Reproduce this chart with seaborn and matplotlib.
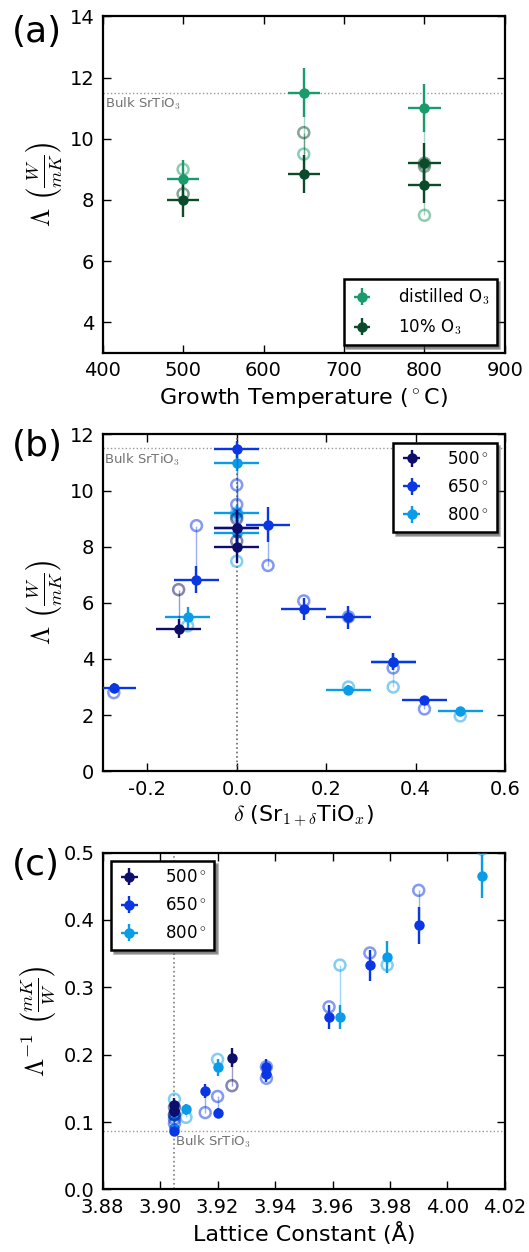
import numpy as np
import matplotlib
matplotlib.use("Agg")
import matplotlib.pyplot as plt
import seaborn as sns

# ---- (a) conductivity vs growth temperature ----
temp_dist = [500, 650, 800]
lam_dist = [8.7, 11.5, 11.0]
err_dist = [0.6, 0.8, 0.78]
open_dist = [9.0, 9.5, 7.5]

temp_ten = [500, 650, 800, 800]
lam_ten = [8.0, 8.85, 9.2, 8.5]
err_ten = [0.55, 0.63, 0.65, 0.6]
open_ten = [8.2, 10.2, 9.1, 9.2]
temp_err = 20

# ---- (b) conductivity vs stoichiometry delta ----
d500 = [-0.13, 0.0, 0.0]
l500 = [5.08, 8.68, 7.98]
e500 = [0.35, 0.63, 0.57]
o500 = [6.47, 9.0, 8.2]

d650 = [-0.275, -0.09, 0.0, 0.0, 0.07, 0.15, 0.25, 0.35, 0.42]
l650 = [2.98, 6.83, 11.47, 8.68, 8.78, 5.78, 5.48, 3.9, 2.53]
e650 = [0.18, 0.48, 0.3, 0.6, 0.62, 0.38, 0.4, 0.3, 0.15]
o650 = [2.8, 8.75, 9.5, 10.2, 7.33, 6.07, 5.5, 3.68, 2.22]

d800 = [-0.11, 0.0, 0.0, 0.0, 0.25, 0.35, 0.5]
l800 = [5.48, 10.98, 9.2, 8.5, 2.9, 3.9, 2.13]
e800 = [0.38, 0.3, 0.3, 0.3, 0.18, 0.3, 0.1]
o800 = [5.18, 7.48, 9.1, 9.2, 3.0, 3.0, 1.97]
delta_err = 0.05

# ---- (c) inverse conductivity vs lattice constant ----
a500 = [3.925, 3.905, 3.905]
r500 = [0.1955, 0.116, 0.126]
re500 = [0.014, 0.008, 0.009]
ro500 = [0.154, 0.111, 0.122]

a650 = [3.9157, 3.920, 3.905, 3.905, 3.937, 3.937, 3.9588, 3.973, 3.990]
r650 = [0.146, 0.114, 0.087, 0.116, 0.182, 0.172, 0.256, 0.333, 0.392]
re650 = [0.01, 0.007, 0.006, 0.008, 0.012, 0.012, 0.018, 0.023, 0.027]
ro650 = [0.114, 0.138, 0.105, 0.098, 0.182, 0.165, 0.271, 0.351, 0.444]

a800 = [3.920, 3.905, 3.905, 3.909, 3.9626, 3.979, 4.012]
r800 = [0.181, 0.091, 0.109, 0.119, 0.256, 0.3446, 0.465]
re800 = [0.013, 0.006, 0.008, 0.008, 0.018, 0.024, 0.032]
ro800 = [0.193, 0.134, 0.11, 0.107, 0.333, 0.333, 0.505]

bulk_lam = 11.5
bulk_inv = 0.087
bulk_a = 3.905

c_dist = "#1a9b6c"
c_ten = "#0b4b2b"
c500 = "#0d0d6b"
c650 = "#0a37e3"
c800 = "#0a9ce8"

sns.set_style("ticks", {"xtick.direction": "in", "ytick.direction": "in"})
plt.rcParams.update({
    "font.family": ["DejaVu Sans"],
    "mathtext.fontset": "cm",
    "axes.unicode_minus": False,
    "axes.linewidth": 1.6,
    "axes.edgecolor": "black",
    "xtick.top": True, "ytick.right": True,
    "xtick.major.size": 6, "ytick.major.size": 6,
    "xtick.major.width": 1, "ytick.major.width": 1,
    "xtick.major.pad": 6, "ytick.major.pad": 6,
    "xtick.labelsize": 14, "ytick.labelsize": 14,
    "axes.labelsize": 16,
    "xtick.color": "black", "ytick.color": "black",
    "text.color": "black", "axes.labelcolor": "black",
})


def draw(ax, x, y, yerr, y_open, color, label, xerr=0, z=3):
    ax.vlines(x, y, y_open, color=color, lw=1, alpha=0.4, zorder=z)
    sns.scatterplot(x=x, y=y_open, ax=ax, color=color, facecolor="none",
                    edgecolor=color, s=62, linewidth=1.8, alpha=0.5,
                    zorder=z, legend=False)
    h = ax.errorbar(x, y, yerr=yerr, xerr=xerr, fmt="o", color=color,
                    ms=7.5, mew=0, elinewidth=1.7, capsize=3.2, capthick=1.7,
                    label=label, zorder=z + 0.5)
    return h


def legend(ax, handles, labels, loc):
    lg = ax.legend(handles, labels, loc=loc, numpoints=1, fancybox=False,
                   shadow=True, framealpha=1, fontsize=12, labelspacing=0.6,
                   handlelength=1.3, handletextpad=1.5, borderpad=0.45)
    lg.get_frame().set_edgecolor("black")
    lg.get_frame().set_linewidth(1.8)
    lg.set_zorder(20)


fig = plt.figure(figsize=(5.29, 12.52), dpi=100)
L, W, H = 0.194, 0.7605, 0.269
ax_a = fig.add_axes([L, 0.718, W, H])
ax_b = fig.add_axes([L, 0.384, W, H])
ax_c = fig.add_axes([L, 0.050, W, H])

ylab = r"$\Lambda\ \left(\frac{W}{mK}\right)$"
ylab_size = 19

# (a)
ha1 = draw(ax_a, temp_dist, lam_dist, err_dist, open_dist, c_dist, "distilled O$_3$", temp_err)
ha2 = draw(ax_a, temp_ten, lam_ten, err_ten, open_ten, c_ten, "10% O$_3$", temp_err)
ax_a.axhline(bulk_lam, color="0.6", ls=":", lw=1, zorder=1)
ax_a.text(403, bulk_lam - 0.1, "Bulk SrTiO$_3$", color="0.45", fontsize=9.5, va="top", ha="left")
ax_a.set_xlim(400, 900)
ax_a.set_ylim(3, 14)
ax_a.set_xticks(np.arange(400, 901, 100))
ax_a.set_yticks(np.arange(4, 15, 2))
ax_a.set_xlabel(r"Growth Temperature ($^\circ$C)")
ax_a.set_ylabel(ylab, fontsize=ylab_size)
legend(ax_a, [ha1, ha2], ["distilled O$_3$", "10% O$_3$"], "lower right")

# (b)
hb8 = draw(ax_b, d800, l800, e800, o800, c800, "800", delta_err, z=3)
hb6 = draw(ax_b, d650, l650, e650, o650, c650, "650", delta_err, z=5)
hb5 = draw(ax_b, d500, l500, e500, o500, c500, "500", delta_err, z=7)
ax_b.axhline(bulk_lam, color="0.6", ls=":", lw=1, zorder=1)
ax_b.axvline(0, color="0.4", ls=":", lw=1.2, zorder=1)
ax_b.text(-0.297, bulk_lam - 0.1, "Bulk SrTiO$_3$", color="0.45", fontsize=9.5, va="top", ha="left")
ax_b.set_xlim(-0.3, 0.6)
ax_b.set_ylim(0, 12)
ax_b.set_xticks(np.arange(-0.2, 0.61, 0.2))
ax_b.set_yticks(np.arange(0, 13, 2))
ax_b.xaxis.set_major_formatter(matplotlib.ticker.FormatStrFormatter("%.1f"))
ax_b.set_xlabel(r"$\delta$ (Sr$_{1+\delta}$TiO$_x$)")
ax_b.set_ylabel(ylab, fontsize=ylab_size)
deg = [r"500$^\circ$", r"650$^\circ$", r"800$^\circ$"]
legend(ax_b, [hb5, hb6, hb8], deg, "upper right")

# (c)
hc8 = draw(ax_c, a800, r800, re800, ro800, c800, "800", 0, z=3)
hc6 = draw(ax_c, a650, r650, re650, ro650, c650, "650", 0, z=5)
hc5 = draw(ax_c, a500, r500, re500, ro500, c500, "500", 0, z=7)
ax_c.axhline(bulk_inv, color="0.6", ls=":", lw=1, zorder=1)
ax_c.axvline(bulk_a, color="0.5", ls=":", lw=1.2, zorder=1)
ax_c.text(bulk_a + 0.0003, bulk_inv - 0.004, "Bulk SrTiO$_3$", color="0.45", fontsize=9.5, va="top", ha="left")
ax_c.set_xlim(3.88, 4.02)
ax_c.set_ylim(0, 0.5)
ax_c.set_xticks(np.arange(3.88, 4.021, 0.02))
ax_c.set_yticks(np.arange(0, 0.51, 0.1))
ax_c.xaxis.set_major_formatter(matplotlib.ticker.FormatStrFormatter("%.2f"))
ax_c.yaxis.set_major_formatter(matplotlib.ticker.FormatStrFormatter("%.1f"))
ax_c.set_xlabel("Lattice Constant (Å)")
ax_c.set_ylabel(r"$\Lambda^{-1}\ \left(\frac{mK}{W}\right)$", fontsize=ylab_size)
legend(ax_c, [hc5, hc6, hc8], deg, "upper left")

for ax in (ax_a, ax_b, ax_c):
    for s in ax.spines.values():
        s.set_visible(True)
        s.set_linewidth(1.6)

for lab, y in (("(a)", 0.988), ("(b)", 0.657), ("(c)", 0.323)):
    fig.text(0.022, y, lab, fontsize=26, va="top", ha="left")

fig.savefig("out.png", dpi=100)
